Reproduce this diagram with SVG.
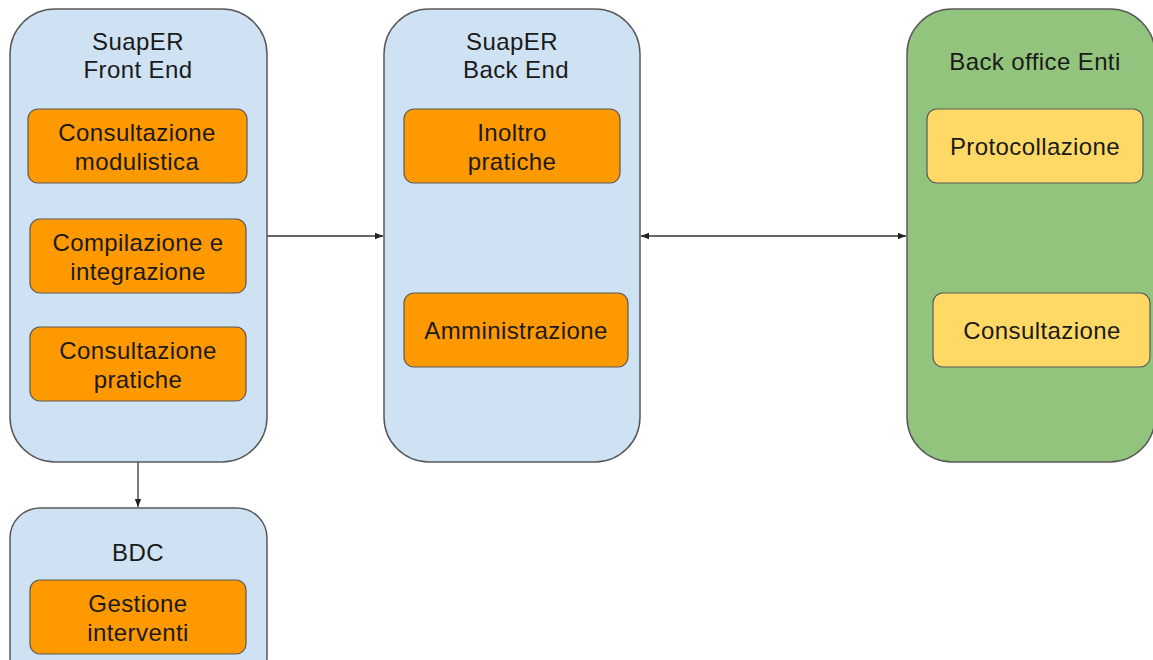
<svg xmlns="http://www.w3.org/2000/svg" width="1153" height="660" viewBox="0 0 1153 660">
<defs>
<style>
.c{fill:#cfe2f3;stroke:#595959;stroke-width:1.5}
.g{fill:#93c47d;stroke:#595959;stroke-width:1.5}
.o{fill:#ff9900;stroke:#595959;stroke-width:1.2}
.y{fill:#ffd966;stroke:#595959;stroke-width:1.2}
text{font-family:"Liberation Sans",Arial,sans-serif;font-size:24px;letter-spacing:0.4px;fill:#1a1a1a;text-anchor:middle}
.ln{stroke:#333;stroke-width:1.3;fill:none}
</style>
<marker id="a" viewBox="0 0 10 10" refX="10" refY="5" markerWidth="8" markerHeight="8" orient="auto-start-reverse" markerUnits="userSpaceOnUse"><path d="M0,1 L10,5 L0,9 z" fill="#222"/></marker>
</defs>
<g id="connectors">
<line class="ln" x1="267" y1="236" x2="383" y2="236" marker-end="url(#a)"/>
<line class="ln" x1="641" y1="236" x2="906" y2="236" marker-start="url(#a)" marker-end="url(#a)"/>
<line class="ln" x1="138" y1="462" x2="138" y2="507" marker-end="url(#a)"/>
</g>
<g id="frontend">
<rect class="c" x="10" y="9" width="257" height="453" rx="45"/>
<text x="138" y="50">SuapER</text>
<text x="138" y="78">Front End</text>
</g>
<g id="consultazione-modulistica">
<rect class="o" x="28" y="109" width="219" height="74" rx="10"/>
<text x="137" y="141">Consultazione</text>
<text x="137" y="170">modulistica</text>
</g>
<g id="compilazione">
<rect class="o" x="30" y="219" width="216" height="74" rx="10"/>
<text x="138" y="251">Compilazione e</text>
<text x="138" y="280">integrazione</text>
</g>
<g id="consultazione-pratiche">
<rect class="o" x="30" y="327" width="216" height="74" rx="10"/>
<text x="138" y="359">Consultazione</text>
<text x="138" y="388">pratiche</text>
</g>
<g id="backend">
<rect class="c" x="384" y="9" width="256" height="453" rx="45"/>
<text x="512" y="50">SuapER</text>
<text x="516" y="78">Back End</text>
</g>
<g id="inoltro">
<rect class="o" x="404" y="109" width="216" height="74" rx="10"/>
<text x="512" y="141">Inoltro</text>
<text x="512" y="170">pratiche</text>
</g>
<g id="amministrazione">
<rect class="o" x="404" y="293" width="224" height="74" rx="10"/>
<text x="516" y="339">Amministrazione</text>
</g>
<g id="backoffice">
<rect class="g" x="907" y="9" width="248" height="453" rx="45"/>
<text x="1035" y="70">Back office Enti</text>
</g>
<g id="protocollazione">
<rect class="y" x="927" y="109" width="216" height="74" rx="10"/>
<text x="1035" y="155">Protocollazione</text>
</g>
<g id="consultazione">
<rect class="y" x="933" y="293" width="217" height="74" rx="10"/>
<text x="1042" y="339">Consultazione</text>
</g>
<g id="bdc">
<rect class="c" x="10" y="508" width="257" height="180" rx="30"/>
<text x="138" y="561">BDC</text>
</g>
<g id="gestione">
<rect class="o" x="30" y="580" width="216" height="74" rx="10"/>
<text x="138" y="612">Gestione</text>
<text x="138" y="641">interventi</text>
</g>
</svg>
